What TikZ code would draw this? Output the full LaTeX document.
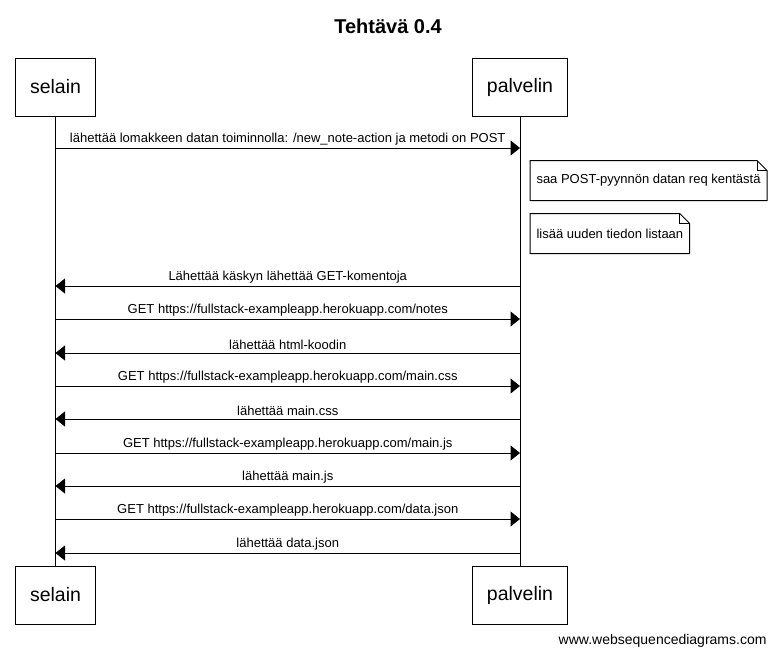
\documentclass[tikz,border=0pt]{standalone}
\usepackage{fontspec}
\setmainfont{Liberation Sans}
\usetikzlibrary{arrows.meta}

\begin{document}
\begin{tikzpicture}[x=1pt,y=-1pt, line width=1pt,
  msg/.style={-{Triangle[length=9.5pt,width=15pt]},draw=black},
  msgLabel/.style={above=1.5pt,inner sep=1pt},
  actor/.style={draw=black,minimum height=58pt,inner xsep=14.5pt,font=\fontsize{19.5}{22}\selectfont},
  note/.style={minimum height=39pt,inner xsep=6pt,anchor=west},
  node font=\fontsize{13}{15}\selectfont]

\useasboundingbox (0,0) rectangle (776,657);

\node[font=\fontsize{20}{24}\selectfont\bfseries] (title) at (388,26) {Tehtävä 0.4};

\node[actor] (selainTop)   at (55.5,87) {selain};
\node[actor] (palvelinTop) at (520,87)  {palvelin};
\node[actor] (selainBot)   at (55.5,595) {selain};
\node[actor] (palvelinBot) at (520,595)  {palvelin};

\draw (selainTop)   -- (selainBot);
\draw (palvelinTop) -- (palvelinBot);

% message end points on the lifelines
\coordinate (selain1) at (55.5,148);  \coordinate (palvelin1) at (520,148);
\coordinate (selain2) at (55.5,286);  \coordinate (palvelin2) at (520,286);
\coordinate (selain3) at (55.5,319);  \coordinate (palvelin3) at (520,319);
\coordinate (selain4) at (55.5,353);  \coordinate (palvelin4) at (520,353);
\coordinate (selain5) at (55.5,386);  \coordinate (palvelin5) at (520,386);
\coordinate (selain6) at (55.5,419);  \coordinate (palvelin6) at (520,419);
\coordinate (selain7) at (55.5,453);  \coordinate (palvelin7) at (520,453);
\coordinate (selain8) at (55.5,486);  \coordinate (palvelin8) at (520,486);
\coordinate (selain9) at (55.5,519);  \coordinate (palvelin9) at (520,519);
\coordinate (selain10) at (55.5,553); \coordinate (palvelin10) at (520,553);

\draw [msg] (selain1)    -- node[msgLabel] {lähettää lomakkeen datan toiminnolla: /new\_note-action ja metodi on POST} (palvelin1);

\node[note] (noteReq)   at (530,180.5) {saa POST-pyynnön datan req kentästä};
\node[note] (noteLista) at (530,233.5) {lisää uuden tiedon listaan};

\draw (noteReq.north west) -- ([xshift=-10pt]noteReq.north east) -- ([yshift=-10pt]noteReq.north east) -- (noteReq.south east) -- (noteReq.south west) -- cycle;
\draw ([xshift=-10pt]noteReq.north east) |- ([yshift=-10pt]noteReq.north east);
\draw (noteLista.north west) -- ([xshift=-10pt]noteLista.north east) -- ([yshift=-10pt]noteLista.north east) -- (noteLista.south east) -- (noteLista.south west) -- cycle;
\draw ([xshift=-10pt]noteLista.north east) |- ([yshift=-10pt]noteLista.north east);

\draw [msg] (palvelin2)  -- node[msgLabel] {Lähettää käskyn lähettää GET-komentoja} (selain2);
\draw [msg] (selain3)    -- node[msgLabel] {GET https://fullstack-exampleapp.herokuapp.com/notes} (palvelin3);
\draw [msg] (palvelin4)  -- node[msgLabel] {lähettää html-koodin} (selain4);
\draw [msg] (selain5)    -- node[msgLabel] {GET https://fullstack-exampleapp.herokuapp.com/main.css} (palvelin5);
\draw [msg] (palvelin6)  -- node[msgLabel] {lähettää main.css} (selain6);
\draw [msg] (selain7)    -- node[msgLabel] {GET https://fullstack-exampleapp.herokuapp.com/main.js} (palvelin7);
\draw [msg] (palvelin8)  -- node[msgLabel] {lähettää main.js} (selain8);
\draw [msg] (selain9)    -- node[msgLabel] {GET https://fullstack-exampleapp.herokuapp.com/data.json} (palvelin9);
\draw [msg] (palvelin10) -- node[msgLabel] {lähettää data.json} (selain10);

\node[anchor=east,inner sep=0pt,font=\fontsize{14}{16}\selectfont] (credit) at (767,641) {www.websequencediagrams.com};
\end{tikzpicture}
\end{document}
